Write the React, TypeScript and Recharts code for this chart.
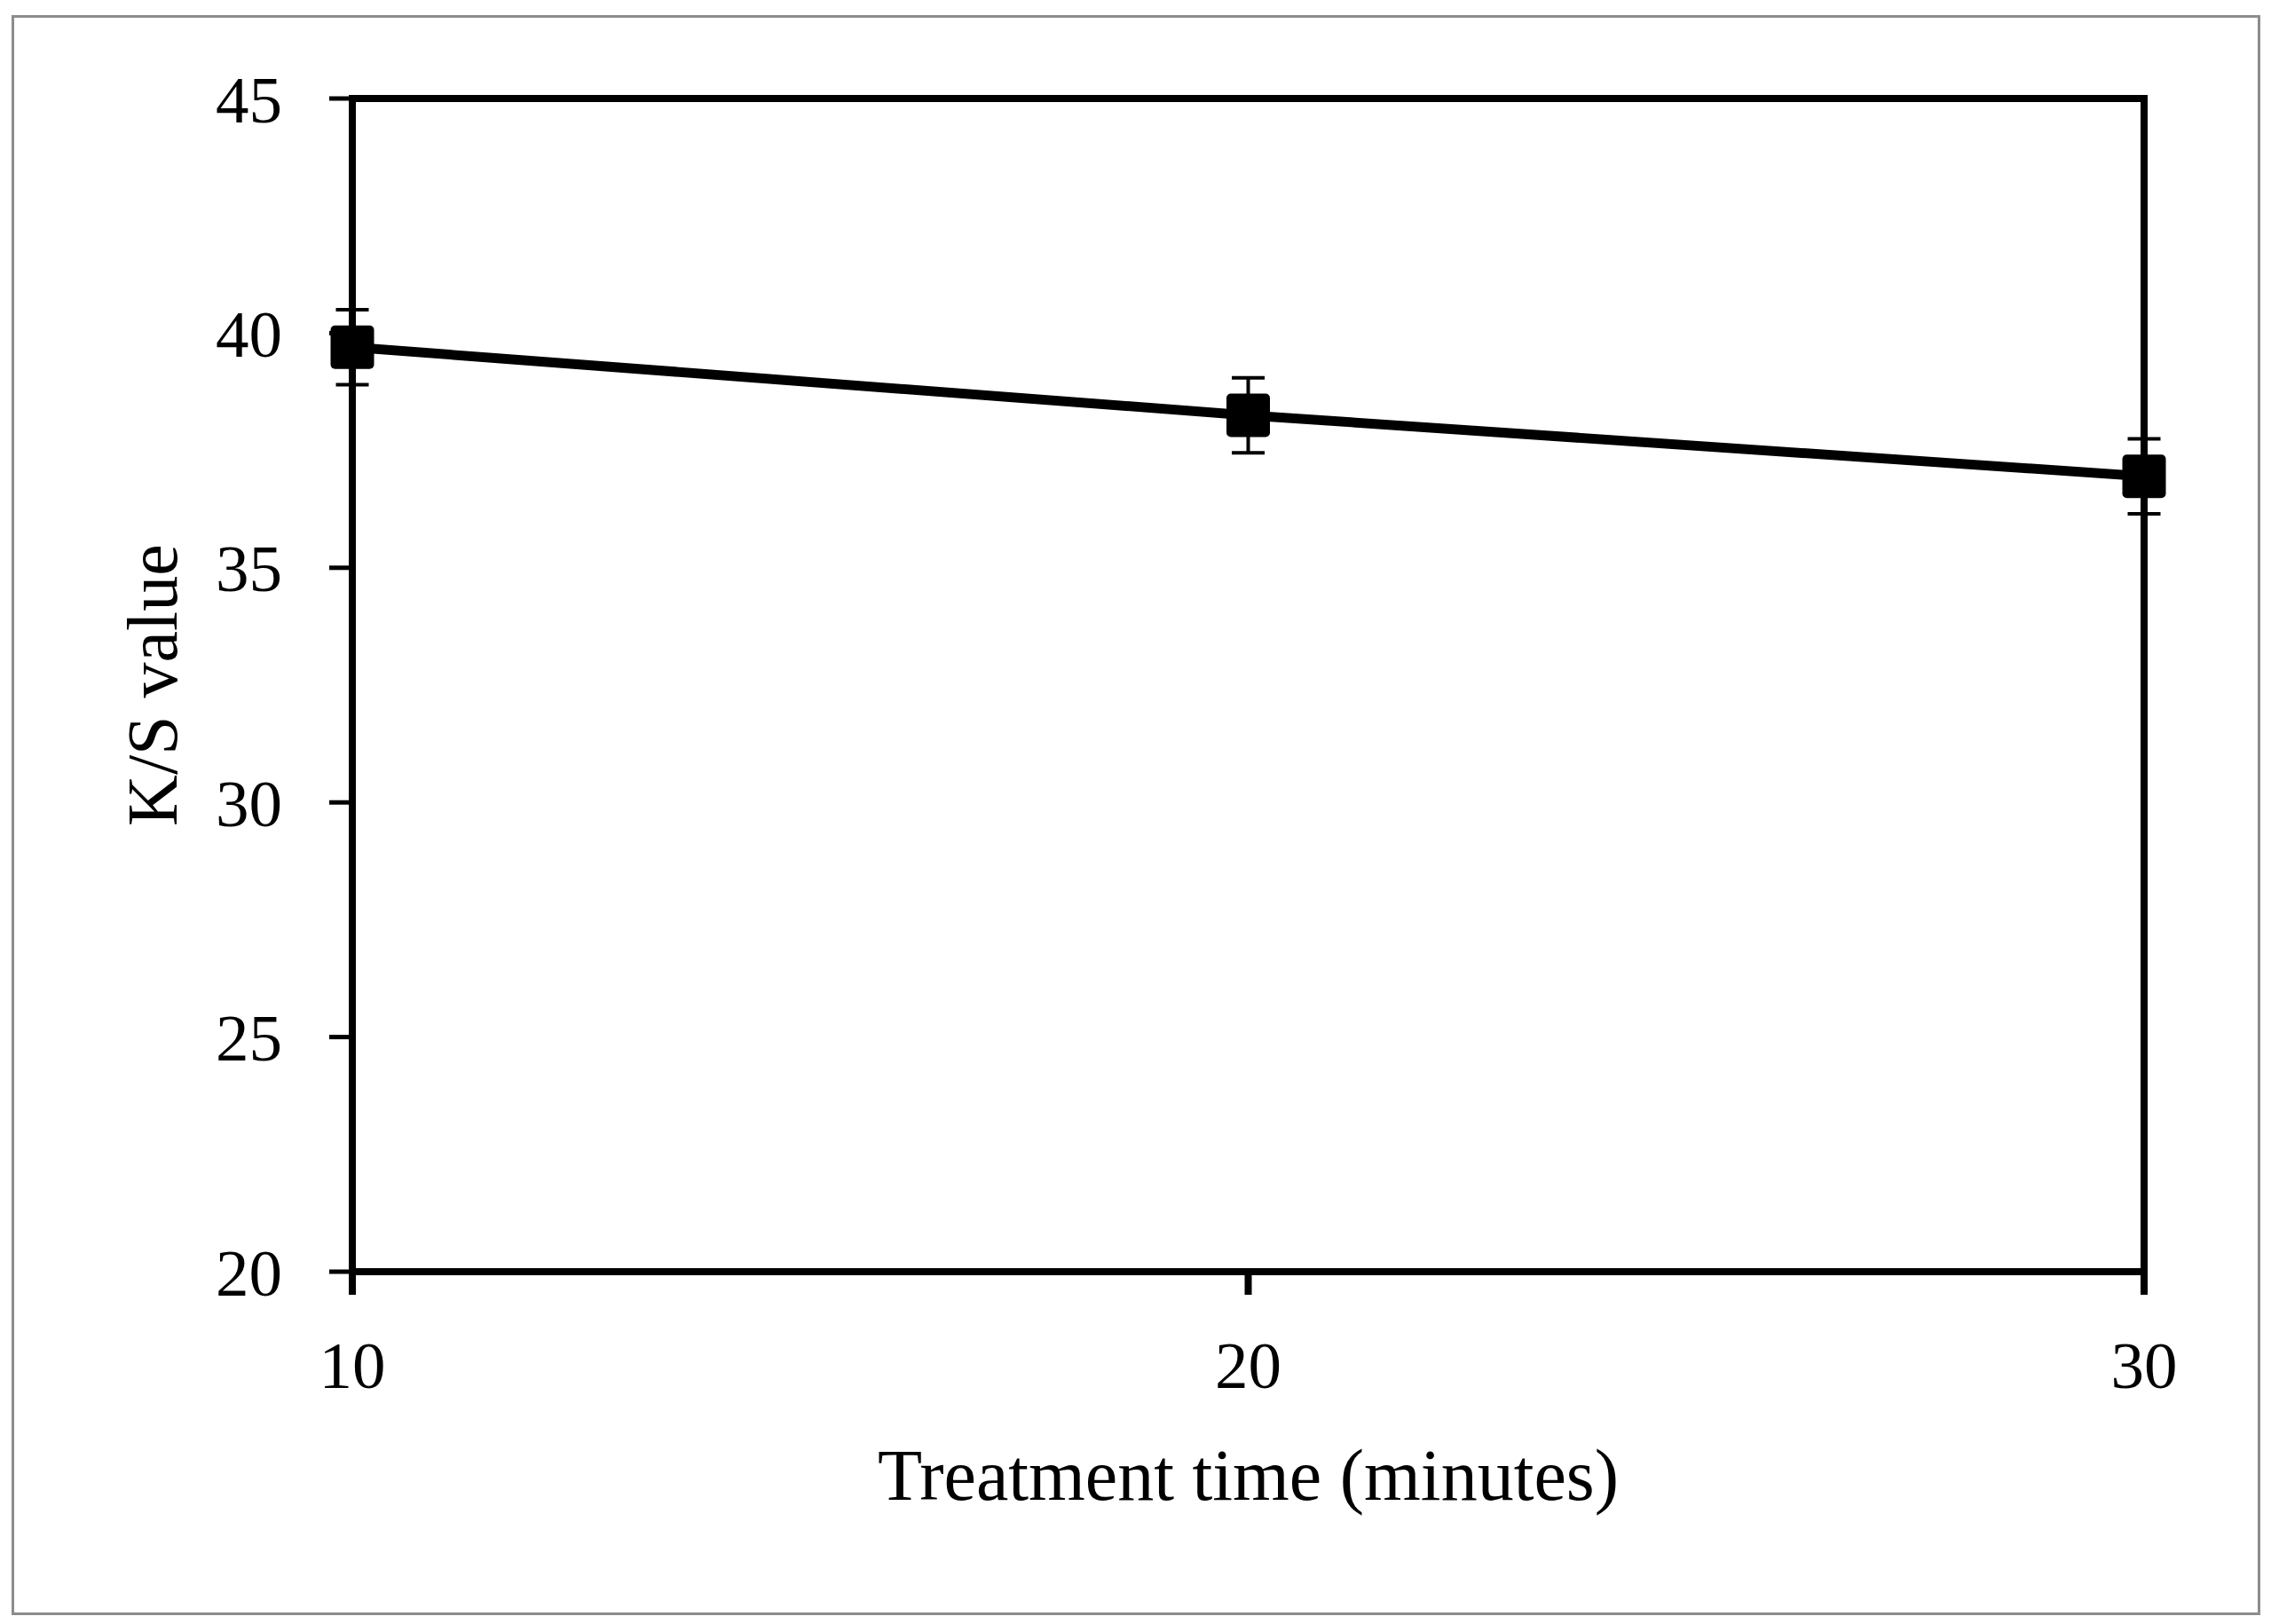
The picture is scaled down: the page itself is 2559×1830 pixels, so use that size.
import React from 'react';
import { LineChart, Line, XAxis, YAxis, ErrorBar, ReferenceArea, Label } from 'recharts';

// treatment time (minutes) and K/S readings
const times = [10, 20, 30];
const ksValues = [39.7, 38.25, 36.95];
const ksErrors = [0.8, 0.8, 0.8];
const xTicks = [10, 20, 30];
const yTicks = [20, 25, 30, 35, 40, 45];

const data = times.map((t, i) => ({ time: t, ks: ksValues[i], err: ksErrors[i] }));

const FONT = '"Liberation Serif", "Times New Roman", serif';
const Y_AXIS_W = 150;
const X_AXIS_H = 150;

const SquareDot = (props: any) => {
  const { cx, cy } = props;
  if (cx == null || cy == null) return <g />;
  return <rect x={cx - 24.5} y={cy - 24.5} width={49} height={49} rx={5} ry={5} fill="#000" />;
};

const XTitle = (props: any) => {
  const vb = props.viewBox || { x: 397, y: 1433, width: 2019, height: X_AXIS_H };
  return (
    <text x={vb.x + vb.width / 2} y={vb.y + 257} textAnchor="middle" fontFamily={FONT} fontSize={82} fill="#000">
      Treatment time (minutes)
    </text>
  );
};

const YTitle = (props: any) => {
  const vb = props.viewBox || { x: 247, y: 111, width: Y_AXIS_W, height: 1322 };
  const x = vb.x + vb.width - 198;
  const y = vb.y + vb.height / 2;
  return (
    <text x={x} y={y} transform={`rotate(-90, ${x}, ${y})`} textAnchor="middle" fontFamily={FONT} fontSize={80} fill="#000">
      K/S value
    </text>
  );
};

const App: React.FC = () => {
  return (
    <div style={{ position: 'absolute', left: 0, top: 0, width: 2559, height: 1830, background: '#fff' }}>
      <div
        style={{
          position: 'absolute',
          left: 13,
          top: 17,
          width: 2534,
          height: 1803,
          boxSizing: 'border-box',
          border: '3px solid #8c8c8c',
        }}
      />
      <div style={{ position: 'absolute', left: 0, top: 0 }}>
        <LineChart
          width={2559}
          height={1830}
          data={data}
          margin={{ top: 111, right: 143, left: 397 - Y_AXIS_W, bottom: 1830 - 1433 - X_AXIS_H }}
        >
          <ReferenceArea x1={10} x2={30} y1={20} y2={45} fill="none" fillOpacity={0} stroke="#000" strokeWidth={8} ifOverflow="visible" />
          <XAxis
            dataKey="time"
            type="number"
            domain={[10, 30]}
            ticks={xTicks}
            height={X_AXIS_H}
            axisLine={{ stroke: '#000', strokeWidth: 8 }}
            tickLine={{ stroke: '#000', strokeWidth: 8 }}
            tickSize={26}
            tickMargin={52}
            tick={{ fill: '#000', fontSize: 75, fontFamily: FONT }}
          >
            <Label content={<XTitle />} />
          </XAxis>
          <YAxis
            type="number"
            domain={[20, 45]}
            ticks={yTicks}
            width={Y_AXIS_W}
            axisLine={{ stroke: '#000', strokeWidth: 8 }}
            tickLine={{ stroke: '#000', strokeWidth: 5 }}
            tickSize={26}
            tickMargin={53}
            tick={{ fill: '#000', fontSize: 75, fontFamily: FONT }}
          >
            <Label content={<YTitle />} />
          </YAxis>
          <Line
            type="linear"
            dataKey="ks"
            stroke="#000"
            strokeWidth={11}
            dot={<SquareDot />}
            activeDot={false}
            isAnimationActive={false}
          >
            <ErrorBar dataKey="err" direction="y" width={18.5} strokeWidth={4} stroke="#000" isAnimationActive={false} />
          </Line>
        </LineChart>
      </div>
    </div>
  );
};

export default App;
